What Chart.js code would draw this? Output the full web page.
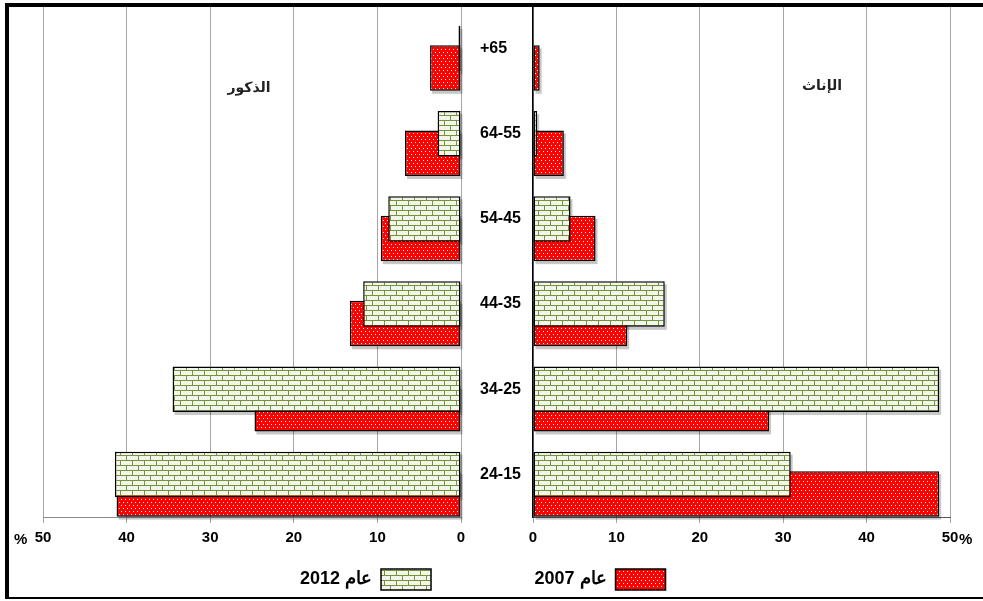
<!DOCTYPE html>
<html><head><meta charset="utf-8">
<script src="https://cdn.jsdelivr.net/npm/chart.js@4.4.1/dist/chart.umd.min.js"></script>
<style>
html,body{margin:0;padding:0;background:#fff;width:983px;height:601px;overflow:hidden;}
#wrap{position:relative;width:983px;height:601px;overflow:hidden;background:#fff;}
#cL{position:absolute;left:0;top:0;}
#cR{position:absolute;left:250px;top:0;}
.frame{position:absolute;left:5px;top:3px;width:1000px;height:596px;box-sizing:border-box;border-left:4px solid #000;border-top:4px solid #000;border-bottom:2px solid #000;pointer-events:none;}
.ttl{position:absolute;width:120px;text-align:center;direction:rtl;font:bold 14px 'DejaVu Sans',sans-serif;color:#222;letter-spacing:1px;}
.pct{position:absolute;font:bold 15px 'Liberation Sans',sans-serif;color:#000;}
</style></head>
<body><div id="wrap">
<canvas id="cL" width="731" height="601"></canvas>
<canvas id="cR" width="720" height="601"></canvas>
<div class="frame"></div>
<div class="ttl" id="tL" style="left:189px;top:79px;"></div>
<div class="ttl" id="tR" style="left:762px;top:77px;"></div>
<div class="pct" style="left:14px;top:530px;">%</div>
<div class="pct" style="left:959px;top:530px;">%</div>
</div>
<script>
// ---- data ----
const ageGroups = ['+65','64-55','54-45','44-35','34-25','24-15'];
const male2012 = [0.3, 2.8, 8.7, 11.7, 34.5, 41.4];
const male2007 = [3.7, 6.7, 9.6, 13.3, 24.7, 41.2];
const female2012 = [0, 0.5, 4.5, 15.8, 48.7, 30.9];
const female2007 = [0.8, 3.7, 7.5, 11.3, 28.3, 48.7];
const seriesLabels = ['عام 2012', 'عام 2007'];
const panelTitles = ['الذكور', 'الإناث'];
const axisMin = 0, axisMax = 50, axisStep = 10;

document.getElementById('tL').textContent = panelTitles[0];
document.getElementById('tR').textContent = panelTitles[1];

// ---- patterns ----
function redPattern(){
  const c=document.createElement('canvas'); c.width=4; c.height=6;
  const g=c.getContext('2d');
  g.fillStyle='#FF0000'; g.fillRect(0,0,4,6);
  g.fillStyle='#FFFFFF'; g.fillRect(1,1,1,1); g.fillRect(3,4,1,1);
  return g.createPattern(c,'repeat');
}
function brickPattern(){
  const c=document.createElement('canvas'); c.width=12; c.height=10;
  const g=c.getContext('2d');
  g.fillStyle='#FFFFFF'; g.fillRect(0,0,12,10);
  g.fillStyle='#F2F6EA'; g.fillRect(1,1,11,4); g.fillRect(0,6,12,4);
  g.fillStyle='#76923C';
  g.fillRect(0,0,12,1); g.fillRect(0,5,12,1);
  g.fillRect(0,0,1,5); g.fillRect(6,5,1,5);
  return g.createPattern(c,'repeat');
}
const RED = redPattern(), BRICK = brickPattern();

function makeDatasets(v2012, v2007){
  return [
    {label:'', data: ageGroups.map(()=>null), backgroundColor:'rgba(0,0,0,0)', borderWidth:0},
    {label: seriesLabels[0], data: v2012, backgroundColor: BRICK, borderColor:'#000', borderWidth:1.5, borderSkipped:false},
    {label: seriesLabels[1], data: v2007, backgroundColor: RED, borderColor:'#000', borderWidth:1.5, borderSkipped:false}
  ];
}

// drop shadow drawn behind each bar (offset gray copy of the bar rectangle)
const shadowPlugin = {
  id:'barShadow',
  beforeDatasetsDraw(chart){
    const c = chart.ctx, a = chart.chartArea;
    c.save();
    c.beginPath(); c.rect(a.left, a.top, a.right - a.left + 4, a.bottom - a.top + 4); c.clip();
    c.fillStyle = 'rgba(0,0,0,0.22)';
    [2,1].forEach(di => {
      const meta = chart.getDatasetMeta(di);
      meta.data.forEach(el => {
        const p = el.getProps(['x','y','base','height']);
        if (p.x == null || isNaN(p.x)) return;
        const l = Math.min(p.x, p.base), r = Math.max(p.x, p.base);
        if (r - l < 0.5) return;
        c.fillRect(l + 2, p.y - p.height/2 + 3, r - l, p.height);
      });
    });
    c.restore();
  }
};

const tickFont = {family:'Liberation Sans', size:15, weight:'bold'};
const legendOpts = (idx) => ({
  display:true, position:'bottom', rtl:true, textDirection:'ltr',
  labels:{boxWidth:50, boxHeight:21, padding:10, color:'#000',
    font:{family:'Liberation Sans', size:18, weight:'bold'},
    filter:(item)=>item.datasetIndex===idx}
});
const xAxis = (rev, borderColor) => ({
  type:'linear', min:axisMin, max:axisMax, reverse:rev,
  ticks:{stepSize:axisStep, padding:6, color:'#000', font:tickFont},
  grid:{color:'#A6A6A6', lineWidth:1, tickLength:6, drawTicks:true},
  border:{color:borderColor, width:1},
  afterFit(s){ s.height = 42; }
});

new Chart(document.getElementById('cL'), {
  type:'bar',
  data:{labels: ageGroups, datasets: makeDatasets(male2012, male2007)},
  options:{
    indexAxis:'y', responsive:false, animation:false,
    datasets:{bar:{categoryPercentage:0.687, barPercentage:2.33}},
    layout:{padding:{top:6, bottom:1, left:0, right:0}},
    plugins:{tooltip:{enabled:false}, legend: legendOpts(1)},
    scales:{
      x: xAxis(true, '#8C8C8C'),
      y: {type:'category', position:'left', grid:{display:false}, border:{display:false}, ticks:{display:false}, afterFit(s){ s.width = 43; }},
      yR: {type:'category', position:'right', labels: ageGroups, offset:true,
           grid:{display:true, drawOnChartArea:false, drawTicks:true, tickLength:19, color:'rgba(0,0,0,0)'},
           border:{display:false},
           ticks:{padding:0, crossAlign:'near', color:'#000', font:{family:'Liberation Sans', size:16, weight:'bold', lineHeight:0.7}},
           afterFit(s){ s.width = 270; }}
    }
  },
  plugins:[shadowPlugin]
});

new Chart(document.getElementById('cR'), {
  type:'bar',
  data:{labels: ageGroups, datasets: makeDatasets(female2012, female2007)},
  options:{
    indexAxis:'y', responsive:false, animation:false,
    datasets:{bar:{categoryPercentage:0.687, barPercentage:2.33}},
    layout:{padding:{top:6, bottom:1, left:0, right:20}},
    plugins:{tooltip:{enabled:false}, legend: legendOpts(2)},
    scales:{
      x: xAxis(false, '#555555'),
      y: {type:'category', position:'left', grid:{display:false}, border:{display:true, color:'#000', width:1.5}, ticks:{display:false}, afterFit(s){ s.width = 283; }}
    }
  },
  plugins:[shadowPlugin]
});
</script>
</body></html>
